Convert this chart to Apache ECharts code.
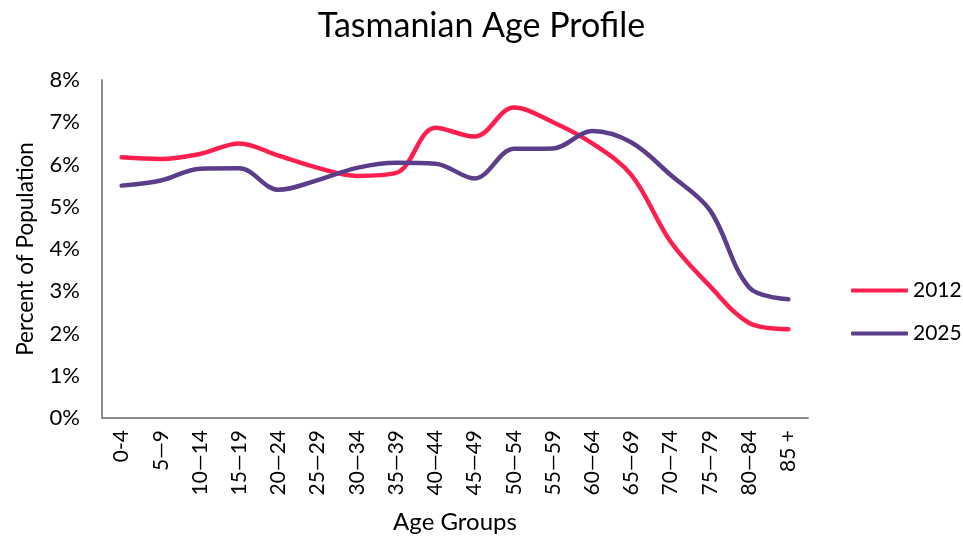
<!DOCTYPE html>
<html>
<head>
<meta charset="utf-8">
<script src="https://cdn.jsdelivr.net/npm/echarts@6/dist/echarts.min.js"></script>
<style>
  html, body { margin: 0; padding: 0; background: #fff; }
  #chart { width: 963px; height: 540px; }
</style>
</head>
<body>
<div id="chart"></div>
<script>
  // age groups on the x axis
  const ageGroups = ['0-4', '5—9', '10—14', '15—19', '20—24', '25—29', '30—34', '35—39', '40—44',
    '45—49', '50—54', '55—59', '60—64', '65—69', '70—74', '75—79', '80—84', '85 +'];
  // percent of population
  const pop2012 = [6.17, 6.13, 6.25, 6.5, 6.21, 5.92, 5.73, 5.8, 6.87, 6.66, 7.35, 7.0, 6.5, 5.75, 4.17, 3.12, 2.25, 2.1];
  const pop2025 = [5.5, 5.62, 5.9, 5.91, 5.4, 5.63, 5.92, 6.04, 6.02, 5.67, 6.37, 6.38, 6.79, 6.52, 5.75, 4.92, 3.09, 2.81];
  const yTicks = [0, 1, 2, 3, 4, 5, 6, 7, 8];

  const font = 'Lato, "Open Sans", sans-serif';
  const chart = echarts.init(document.getElementById('chart'), null, { renderer: 'canvas' });

  chart.setOption({
    animation: false,
    title: {
      text: 'Tasmanian Age Profile',
      left: 'center',
      top: 4,
      textStyle: { fontFamily: font, fontSize: 34, fontWeight: 'normal', color: '#000' }
    },
    legend: {
      orient: 'vertical',
      left: 846,
      top: 275,
      itemWidth: 57,
      itemHeight: 4,
      itemGap: 22,
      icon: 'roundRect',
      textStyle: { fontFamily: font, fontSize: 21, color: '#000' },
      data: ['2012', '2025']
    },
    grid: { left: 102, right: 155, top: 80, bottom: 122, outerBoundsMode: 'none', containLabel: false },
    xAxis: {
      type: 'category',
      data: ageGroups,
      boundaryGap: true,
      name: 'Age Groups',
      nameLocation: 'middle',
      nameGap: 92,
      nameTextStyle: { fontFamily: font, fontSize: 24, color: '#000' },
      axisLine: { lineStyle: { color: '#8c8c8c', width: 2 } },
      axisTick: { show: false },
      axisLabel: { rotate: 90, margin: 12, fontFamily: font, fontSize: 21, color: '#000', interval: 0 }
    },
    yAxis: {
      type: 'value',
      min: yTicks[0],
      max: yTicks[yTicks.length - 1],
      interval: 1,
      name: 'Percent of Population',
      nameLocation: 'middle',
      nameGap: 65,
      nameTextStyle: { fontFamily: font, fontSize: 22.5, color: '#000' },
      axisLine: { show: true, lineStyle: { color: '#8c8c8c', width: 2 } },
      axisTick: { show: false },
      splitLine: { show: false },
      axisLabel: { margin: 22, fontFamily: font, fontSize: 22, color: '#000', formatter: '{value}%' }
    },
    series: [
      {
        name: '2012',
        type: 'line',
        data: pop2012,
        smooth: 0.35,
        showSymbol: false,
        symbol: 'none',
        itemStyle: { color: '#ff1f4f' },
        lineStyle: { color: '#ff1f4f', width: 4.5, cap: 'round' }
      },
      {
        name: '2025',
        type: 'line',
        data: pop2025,
        smooth: 0.35,
        showSymbol: false,
        symbol: 'none',
        itemStyle: { color: '#5c3d8a' },
        lineStyle: { color: '#5c3d8a', width: 4.5, cap: 'round' }
      }
    ]
  });
</script>
</body>
</html>
